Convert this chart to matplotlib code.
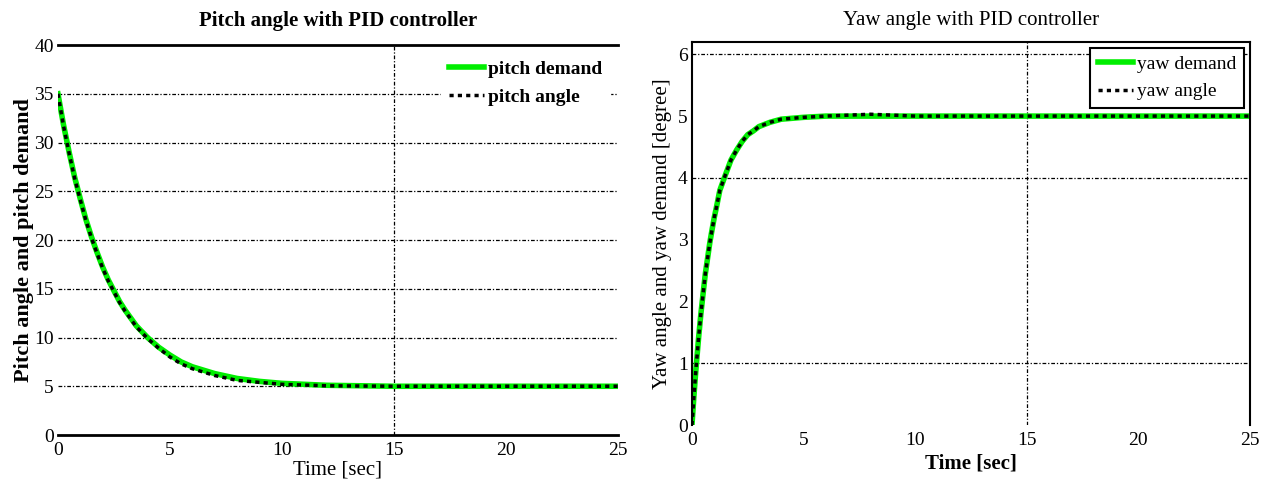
# Pitch / yaw response with PID controller
import matplotlib
matplotlib.use('Agg')
from matplotlib import pyplot as plt

plt.rcParams['font.family'] = ['Liberation Serif', 'DejaVu Serif']

# Данные тангажа
t_pitch = [0, 0.25, 0.5, 0.75, 1, 1.25, 1.5, 1.75, 2, 2.25, 2.5, 2.75, 3, 3.25, 3.5, 4, 4.5,
           5, 5.5, 6, 7, 8, 9, 10, 12, 15, 20, 25]
pitch_demand = [35, 31.8, 29.0, 26.4, 24.2, 22.1, 20.3, 18.7, 17.2, 15.9, 14.8, 13.7, 12.8, 12.0,
                11.2, 10.0, 9.0, 8.2, 7.5, 7.0, 6.3, 5.8, 5.5, 5.3, 5.1, 5.0, 5.0, 5.0]
pitch_angle = [35, 31.7, 28.9, 26.3, 24.1, 22.0, 20.2, 18.6, 17.1, 15.8, 14.7, 13.6, 12.7, 11.9,
               11.1, 9.9, 8.9, 8.0, 7.3, 6.8, 6.1, 5.6, 5.4, 5.2, 5.05, 5.0, 5.0, 5.0]

# Данные рыскания
t_yaw = [0, 0.1, 0.2, 0.3, 0.4, 0.5, 0.6, 0.7, 0.8, 0.9, 1.0, 1.1, 1.25, 1.5, 1.75, 2, 2.25,
         2.5, 2.75, 3, 3.5, 4, 5, 6, 8, 10, 15, 20, 25]
yaw_demand = [0, 0.53, 1.0, 1.42, 1.8, 2.13, 2.45, 2.70, 2.95, 3.16, 3.36, 3.53, 3.8, 4.05, 4.29,
              4.45, 4.59, 4.7, 4.76, 4.83, 4.9, 4.95, 4.98, 5.0, 5.0, 5.0, 5.0, 5.0, 5.0]
yaw_angle = [0, 0.53, 1.0, 1.42, 1.8, 2.13, 2.45, 2.70, 2.95, 3.16, 3.36, 3.53, 3.8, 4.05, 4.29,
             4.45, 4.59, 4.7, 4.76, 4.83, 4.9, 4.95, 4.98, 5.0, 5.03, 5.0, 5.0, 5.0, 5.0]

x_ticks = [0, 5, 10, 15, 20, 25]
pitch_yticks = [0, 5, 10, 15, 20, 25, 30, 35, 40]
yaw_yticks = [0, 1, 2, 3, 4, 5, 6]

# видимые линии сетки
pitch_hgrid = [5, 10, 15, 20, 25, 30, 35]
yaw_hgrid = [1, 4, 6]
vgrid = [15]

fig = plt.figure(figsize=(12.68, 4.82), dpi=100)
ax1 = fig.add_axes([0.0457, 0.0975, 0.4416, 0.809])
ax2 = fig.add_axes([0.5457, 0.118, 0.440, 0.795])

grid_kw = dict(color='black', linestyle=(0, (3, 1.5, 1, 1.5)), linewidth=0.9, zorder=1)

# Левый график
for y in pitch_hgrid:
    ax1.axhline(y, **grid_kw)
for x in vgrid:
    ax1.axvline(x, **grid_kw)
ax1.plot(t_pitch, pitch_demand, color='#00ee00', linewidth=4, label='pitch demand', zorder=2)
ax1.plot(t_pitch, pitch_angle, color='black', linewidth=2.5, linestyle=(0, (1.2, 1.2)),
         label='pitch angle', zorder=3)
ax1.set_xlim(0, 25)
ax1.set_ylim(0, 40)
ax1.set_xticks(x_ticks)
ax1.set_yticks(pitch_yticks)
ax1.spines['left'].set_visible(False)
ax1.spines['right'].set_visible(False)
ax1.spines['top'].set_linewidth(2)
ax1.spines['bottom'].set_linewidth(2)
ax1.tick_params(length=0, labelsize=14, pad=3)
ax1.tick_params(axis='x', pad=5)
ax1.set_title('Pitch angle with PID controller', fontsize=15, fontweight='bold', pad=14)
ax1.set_xlabel('Time [sec]', fontsize=15, labelpad=1)
ax1.set_ylabel('Pitch angle and pitch demand', fontsize=16, fontweight='bold', labelpad=0)
leg1 = ax1.legend(loc='upper right', fontsize=14, fancybox=False, framealpha=1,
                  edgecolor='white', handlelength=1.8, borderaxespad=0.4, handletextpad=0.2)
for txt in leg1.get_texts():
    txt.set_fontweight('bold')

# Правый график
for y in yaw_hgrid:
    ax2.axhline(y, **grid_kw)
for x in vgrid:
    ax2.axvline(x, **grid_kw)
ax2.plot(t_yaw, yaw_demand, color='#00ee00', linewidth=4, label='yaw demand', zorder=2)
ax2.plot(t_yaw, yaw_angle, color='black', linewidth=2.5, linestyle=(0, (1.2, 1.2)),
         label='yaw angle', zorder=3)
ax2.set_xlim(0, 25)
ax2.set_ylim(0, 6.2)
ax2.set_xticks(x_ticks)
ax2.set_yticks(yaw_yticks)
for s in ax2.spines.values():
    s.set_linewidth(1.5)
ax2.spines['bottom'].set_visible(False)
ax2.tick_params(length=0, labelsize=14, pad=3)
ax2.tick_params(axis='x', pad=5)
ax2.set_title('Yaw angle with PID controller', fontsize=15, pad=12)
ax2.set_xlabel('Time [sec]', fontsize=15, fontweight='bold', labelpad=3)
ax2.set_ylabel('Yaw angle and yaw demand [degree]', fontsize=15, labelpad=4)
leg2 = ax2.legend(loc='upper right', fontsize=14, fancybox=False, framealpha=1,
                  edgecolor='black', handlelength=1.8, borderaxespad=0.3, handletextpad=0.2)
leg2.get_frame().set_linewidth(1.5)

fig.savefig('out.png', dpi=100)
